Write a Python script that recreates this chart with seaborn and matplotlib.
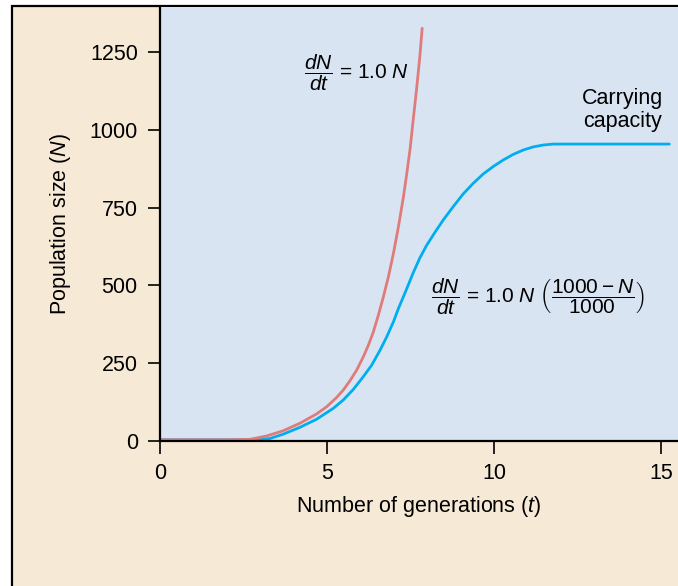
import matplotlib
matplotlib.use("Agg")
import matplotlib.pyplot as plt
import seaborn as sns
import pandas as pd
from matplotlib.patches import Rectangle

sns.set_style("ticks")
plt.rcParams['font.family'] = ['Liberation Sans', 'DejaVu Sans']
plt.rcParams['mathtext.fontset'] = 'custom'
plt.rcParams['mathtext.rm'] = 'Liberation Sans'
plt.rcParams['mathtext.it'] = 'Liberation Sans:italic'
plt.rcParams['mathtext.bf'] = 'Liberation Sans:bold'
plt.rcParams['text.color'] = 'black'
plt.rcParams['axes.labelcolor'] = 'black'
plt.rcParams['xtick.color'] = 'black'
plt.rcParams['ytick.color'] = 'black'

# Data
exp_t = [0, 2.0, 2.4, 2.69, 3.19, 3.69, 4.19, 4.69, 4.99, 5.29, 5.49, 5.69, 5.89,
         6.09, 6.24, 6.39, 6.54, 6.69, 6.84, 6.99, 7.14, 7.29, 7.39, 7.49, 7.58,
         7.68, 7.78, 7.85]
exp_N = [4, 4, 4.5, 5.4, 16, 33, 57, 87, 110, 140, 164, 194, 228,
         271, 308, 351, 405, 464, 528, 603, 689, 785, 860, 940, 1031,
         1128, 1235, 1326]

log_t = [0, 2.0, 2.6, 2.99, 3.29, 3.69, 4.19, 4.69, 5.19, 5.49, 5.79, 6.09, 6.34,
         6.59, 6.79, 6.99, 7.14, 7.29, 7.44, 7.58, 7.78, 7.98, 8.23, 8.48, 8.78,
         9.08, 9.38, 9.68, 9.98, 10.28, 10.58, 10.88, 11.18, 11.48, 11.78, 12.08,
         15.25]
log_N = [4, 4, 4, 4.5, 8, 22, 44, 70, 105, 132, 166, 207, 244,
         292, 335, 383, 426, 464, 503, 540, 588, 628, 670, 710, 753,
         794, 828, 858, 882, 903, 921, 935, 945, 951, 954, 954,
         954]

x_ticks = [0, 5, 10, 15]
y_ticks = [0, 250, 500, 750, 1000, 1250]

exp_df = pd.DataFrame({"t": exp_t, "N": exp_N})
log_df = pd.DataFrame({"t": log_t, "N": log_N})

fig = plt.figure(figsize=(6.78, 5.86), dpi=100, facecolor='white')
# beige panel with black frame
fig.patches.append(Rectangle((11.7 / 678, -0.1), 1.2, 0.1 + (1 - 6 / 586),
                             transform=fig.transFigure, facecolor='#f6e9d5',
                             edgecolor='black', linewidth=1.6, zorder=-10))

ax = fig.add_axes([160 / 678, 1 - 441 / 586, 1 - 160 / 678, (441 - 6.8) / 586])
ax.set_facecolor('#d9e4f2')

sns.lineplot(data=log_df, x="t", y="N", sort=False, estimator=None,
             color='#00aeef', linewidth=2.0, solid_joinstyle='round', ax=ax)
sns.lineplot(data=exp_df, x="t", y="N", sort=False, estimator=None,
             color='#e07b7b', linewidth=2.0, solid_joinstyle='round', ax=ax)

ax.set_xlim(0, 15.51)
ax.set_ylim(0, 1395)
ax.set_xticks(x_ticks)
ax.set_yticks(y_ticks)
ax.tick_params(axis='both', labelsize=15.5, length=9, width=1.2, color='black', pad=7)
ax.tick_params(axis='x', pad=7)

for s in ['top', 'right']:
    ax.spines[s].set_visible(False)
for s in ['left', 'bottom']:
    ax.spines[s].set_color('black')
    ax.spines[s].set_linewidth(1.6)

ax.set_xlabel("Number of generations ($t$)", fontsize=15.5, labelpad=7)
ax.set_ylabel("Population size ($N$)", fontsize=15.5, labelpad=12)

ax.text(5.88, 1183, r"$\dfrac{dN}{dt}$ = 1.0 $N$", fontsize=15,
        ha='center', va='center')
ax.text(11.31, 463, r"$\dfrac{dN}{dt}$ = 1.0 $N\ \left(\dfrac{1000\:-\:N}{1000}\right)$",
        fontsize=15, ha='center', va='center')
ax.text(13.86, 1064, "Carrying\ncapacity", fontsize=15.5, ha='center', va='center',
        linespacing=1.15)

fig.savefig("out.png", dpi=100, facecolor=fig.get_facecolor())
